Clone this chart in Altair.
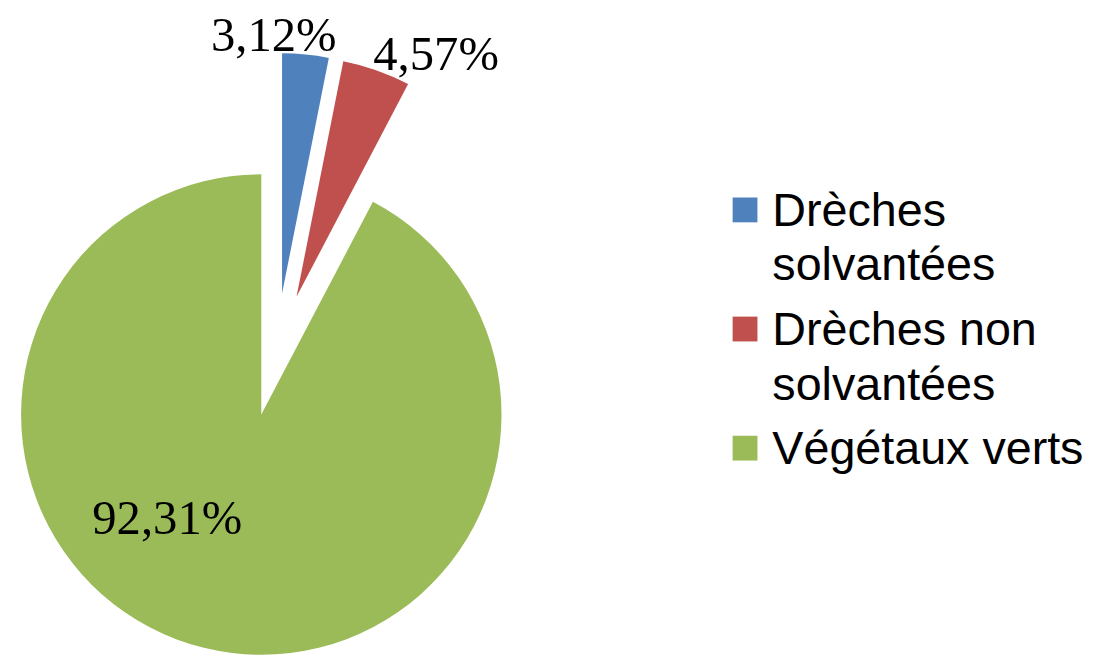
import altair as alt
import pandas as pd

# ---- data ----
categories = ["Drèches solvantées", "Drèches non solvantées", "Végétaux verts"]
values = [3.12, 4.57, 92.31]
value_labels = ["3,12%", "4,57%", "92,31%"]
legend_labels = ["Drèches\nsolvantées", "Drèches non\nsolvantées", "Végétaux verts"]
colors = ["#4F81BD", "#C0504D", "#9BBB59"]

# ---- layout (style) ----
W, H = 1087, 649
CX, CY = 270, 347      # pie centre
R = 242                # radius
EXPLODE = 62           # explosion distance
LEG_X_SQ, LEG_X_TXT = 742.5, 770
LEG_Y0, LEG_LH, LEG_GAP = 217, 55, 10
LABEL_FONT = "Liberation Serif"
LEGEND_FONT = "Liberation Sans"

total = sum(values)
lines = [s.count("\n") + 1 for s in legend_labels]
before = [sum(lines[:i]) for i in range(len(lines))]

df = pd.DataFrame({
    "cat": categories,
    "value": values,
    "label": value_labels,
    "legend": legend_labels,
    "order": list(range(len(categories))),
    "lines_before": before,
})

color = alt.Color("cat:N", scale=alt.Scale(domain=categories, range=colors), legend=None)

base = (
    alt.Chart(df)
    .transform_window(end="sum(value)", sort=[alt.SortField("order")], frame=[None, 0])
    .transform_calculate(
        start="datum.end - datum.value",
        mid=f"(datum.end - datum.value/2) / {total} * 2 * PI",
    )
    .transform_calculate(
        cx=f"{CX} + {EXPLODE} * sin(datum.mid)",
        cy=f"{CY} - {EXPLODE} * cos(datum.mid)",
    )
)

arcs = base.mark_arc(radius=R).encode(
    theta=alt.Theta("start:Q", scale=alt.Scale(domain=[0, total])),
    theta2="end:Q",
    x=alt.X("cx:Q", scale=None),
    y=alt.Y("cy:Q", scale=None),
    color=color,
)

# label anchors: outer edge for small slices, inside for the big one
label_cfg = {
    categories[0]: dict(rf=1.0, dx=-32, dy=-4),
    categories[1]: dict(rf=1.0, dx=60, dy=0),
    categories[2]: dict(rf=0.6, dx=-60, dy=-21),
}
label_layers = []
for cat, cfg in label_cfg.items():
    lyr = (
        base.transform_filter(alt.datum.cat == cat)
        .transform_calculate(
            lx=f"datum.cx + {cfg['rf'] * R} * sin(datum.mid)",
            ly=f"datum.cy - {cfg['rf'] * R} * cos(datum.mid)",
        )
        .mark_text(
            font=LABEL_FONT, fontSize=49, color="black", align="center",
            baseline="alphabetic", dx=cfg["dx"], dy=cfg["dy"],
        )
        .encode(x=alt.X("lx:Q", scale=None), y=alt.Y("ly:Q", scale=None), text="label:N")
    )
    label_layers.append(lyr)

leg = alt.Chart(df).transform_calculate(
    ly=f"{LEG_Y0} + datum.lines_before * {LEG_LH} + datum.order * {LEG_GAP}",
).transform_calculate(sy="datum.ly - 16")

leg_sq = leg.mark_square(size=625, opacity=1).encode(
    x=alt.value(LEG_X_SQ), y=alt.Y("sy:Q", scale=None), color=color
)
leg_txt = leg.mark_text(
    font=LEGEND_FONT, fontSize=47, lineHeight=LEG_LH, lineBreak="\n",
    align="left", baseline="alphabetic", color="black",
).encode(x=alt.value(LEG_X_TXT), y=alt.Y("ly:Q", scale=None), text="legend:N")

chart = (
    alt.layer(arcs, *label_layers, leg_sq, leg_txt)
    .properties(width=W, height=H, autosize=alt.AutoSizeParams(type="none"), padding=0)
    .configure_view(stroke=None)
)

chart.save("out.html", embed_options={"renderer": "svg", "actions": False})
